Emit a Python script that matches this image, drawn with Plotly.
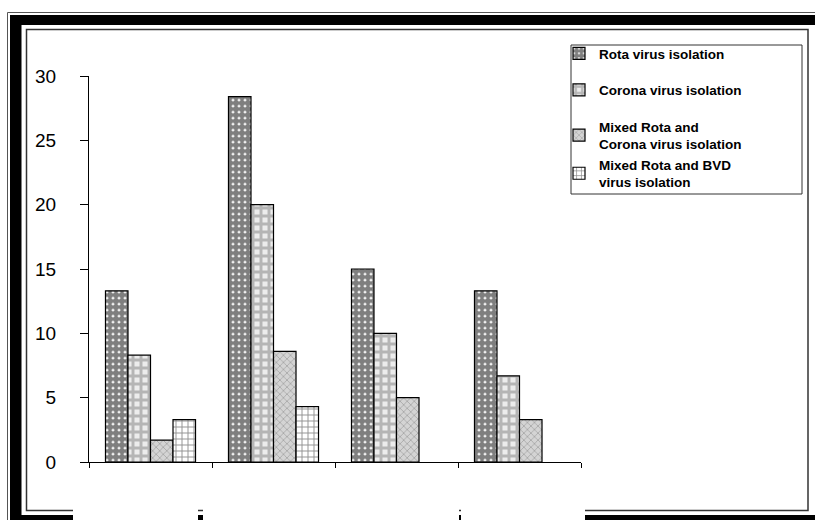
import plotly.graph_objects as go

# Virus isolation rates (%) per sample group
groups = ["Group 1", "Group 2", "Group 3", "Group 4"]
rota = [13.3, 28.4, 15.0, 13.3]
corona = [8.3, 20.0, 10.0, 6.7]
mixed_rota_corona = [1.7, 8.6, 5.0, 3.3]
mixed_rota_bvd = [3.3, 4.3, None, None]

series_names = [
    "Rota virus isolation",
    "Corona virus isolation",
    "Mixed Rota and<br>Corona virus isolation",
    "Mixed Rota and BVD<br>virus isolation",
]
y_ticks = [0, 5, 10, 15, 20, 25, 30]

W, H = 815, 520
ML, MR, MT, MB = 89, 234, 76, 58
PW, PH = W - ML - MR, H - MT - MB


def px(x):
    return (x - ML) / PW


def py(y):
    return (H - MB - y) / PH


FONT = "Liberation Sans, Arial, sans-serif"

patterns = [
    dict(shape=".", fgcolor="#000000", bgcolor="#ffffff", size=6, solidity=0.8),
    dict(shape="+", fgcolor="#7d7d7d", bgcolor="#ececec", size=8, solidity=0.6),
    dict(shape="x", fgcolor="#7a7a7a", bgcolor="#d4d4d4", size=5, solidity=0.3),
    dict(shape="+", fgcolor="#1a1a1a", bgcolor="#ffffff", size=6, solidity=0.28),
]
legend_groups = ["a", "b", "c", "c"]

fig = go.Figure()
for name, vals, pat, grp in zip(series_names,
                                [rota, corona, mixed_rota_corona, mixed_rota_bvd],
                                patterns, legend_groups):
    fig.add_trace(go.Bar(
        x=groups, y=vals, name=name, legendgroup=grp,
        marker=dict(color=pat["bgcolor"], pattern=pat,
                    line=dict(color="#000000", width=1.2)),
    ))

P = dict(xref="paper", yref="paper")
shapes = []
# outer thin rule of the double frame
shapes.append(dict(type="line", x0=px(7.5), x1=px(W), y0=py(12.5), y1=py(12.5),
                   line=dict(color="#555555", width=1), **P))
shapes.append(dict(type="line", x0=px(7.5), x1=px(7.5), y0=py(12.5), y1=py(H),
                   line=dict(color="#555555", width=1), **P))
# thick black band
for x0, y0, x1, y1 in [(10, 15, W, 25), (10, 15, 21.5, H), (10, 515, W, H)]:
    shapes.append(dict(type="rect", x0=px(x0), x1=px(x1), y0=py(y0), y1=py(y1),
                       fillcolor="#000000", line=dict(width=0), **P))
# inner thin rule
shapes.append(dict(type="rect", x0=px(26.5), x1=px(808), y0=py(29.5), y1=py(510.5),
                   line=dict(color="#333333", width=1.5), **P))
# white patches over the lower frame
for x0, x1 in [(73, 198), (203, 459), (461, 585)]:
    shapes.append(dict(type="rect", x0=px(x0), x1=px(x1), y0=py(503), y1=py(H),
                       fillcolor="#ffffff", line=dict(width=0), **P))
# legend box
shapes.append(dict(type="rect", x0=px(571), x1=px(802), y0=py(45), y1=py(194),
                   line=dict(color="#333333", width=1), **P))

fig.update_layout(
    width=W, height=H,
    margin=dict(l=ML, r=MR, t=MT, b=MB, pad=0),
    paper_bgcolor="#ffffff", plot_bgcolor="#ffffff",
    barmode="group", bargap=0.268, bargroupgap=0,
    font=dict(family=FONT, color="#000000"),
    showlegend=True,
    legend=dict(
        x=px(559), y=py(38), xanchor="left", yanchor="top",
        xref="paper", yref="paper",
        bgcolor="rgba(0,0,0,0)", borderwidth=0,
        traceorder="grouped", tracegroupgap=16,
        font=dict(family=FONT, size=13.5, color="#000000", weight="bold"),
    ),
    shapes=shapes,
    xaxis=dict(
        showline=True, linecolor="#000000", linewidth=1,
        ticks="outside", ticklen=5, tickcolor="#000000", tickwidth=1,
        tickson="boundaries", showticklabels=False, showgrid=False,
        fixedrange=True,
    ),
    yaxis=dict(
        range=[0, 30], tickvals=y_ticks, ticktext=[str(v) for v in y_ticks],
        showline=True, linecolor="#000000", linewidth=1,
        ticks="outside", ticklen=8, tickcolor="#000000", tickwidth=1,
        ticklabelstandoff=20, showgrid=False, zeroline=False,
        tickfont=dict(family=FONT, size=19, color="#000000"),
        fixedrange=True,
    ),
)

fig.write_html("out.html")
